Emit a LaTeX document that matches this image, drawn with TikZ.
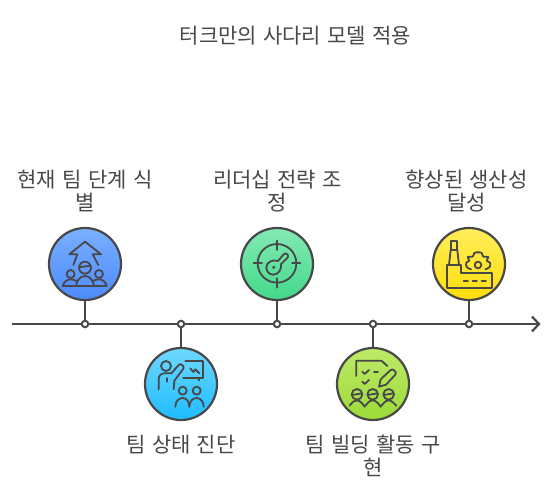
\documentclass[tikz,border=0pt]{standalone}
\usepackage{fontspec}
\setmainfont[WordSpace=1.35]{Noto Sans CJK KR}
\usetikzlibrary{arrows.meta}
\definecolor{ink}{HTML}{484848}
\tikzset{
  x=1pt,y=-1pt,
  conn/.style={draw=ink,line width=2.2pt},
  badge/.style={circle,draw=ink,line width=2.2pt,minimum size=72pt,inner sep=0pt},
  dot/.style={circle,draw=ink,line width=2pt,fill=white,minimum size=6.5pt,inner sep=0pt},
  lab/.style={text=ink,font=\fontsize{21}{23}\selectfont,align=center,inner sep=0pt},
  ico/.style={draw=ink,line width=1.8pt,line join=round,line cap=round,fill=none},
}
\begin{document}
\begin{tikzpicture}
\useasboundingbox (0,0) rectangle (553,492);
\fill[white] (0,0) rectangle (553,492);
\coordinate (start) at (12,324);
\coordinate (end) at (540.5,324);
\draw[conn,-{Straight Barb[length=7pt,width=15pt,line width=2.2pt]}] (start) -- (end);
\node[dot] (d1) at (85,324) {};
\node[dot] (d2) at (181,324) {};
\node[dot] (d3) at (277,324) {};
\node[dot] (d4) at (373,324) {};
\node[dot] (d5) at (469,324) {};
\node[badge,top color={rgb,255:red,122;green,176;blue,255},bottom color={rgb,255:red,76;green,138;blue,250}] (c1) at (85,264) {};
\node[badge,top color={rgb,255:red,132;green,233;blue,180},bottom color={rgb,255:red,66;green,217;blue,138}] (c2) at (277,264) {};
\node[badge,top color={rgb,255:red,255;green,238;blue,92},bottom color={rgb,255:red,255;green,222;blue,10}] (c3) at (469,264) {};
\node[badge,top color={rgb,255:red,110;green,216;blue,255},bottom color={rgb,255:red,30;green,188;blue,255}] (c4) at (181,384) {};
\node[badge,top color={rgb,255:red,190;green,234;blue,104},bottom color={rgb,255:red,156;green,218;blue,56}] (c5) at (373,384) {};
\draw[conn] (c1) -- (d1);
\draw[conn] (c2) -- (d3);
\draw[conn] (c3) -- (d5);
\draw[conn] (c4) -- (d2);
\draw[conn] (c5) -- (d4);
% icon 1
\begin{scope}[shift={(40,220)},scale=1/3]
\draw[ico] (100,135) -- (112,103) -- (88,103) -- (135,65) -- (183,103) -- (158,103) -- (175,135);
\draw[ico] (135,143) circle (18);
\draw[ico] (118,142) -- (151,137);
\draw[ico] (92,162) circle (12);
\draw[ico] (177,162) circle (12);
\draw[ico] (68,197) -- (200,197);
\draw[ico] (68,197) .. controls (72,184) and (84,178) .. (92,178) .. controls (98,178) and (104,180) .. (112,184);
\draw[ico] (200,197) .. controls (196,184) and (186,178) .. (177,178) .. controls (170,178) and (164,180) .. (157,184);
\draw[ico] (108,197) .. controls (110,180) and (122,168) .. (135,168) .. controls (148,168) and (160,180) .. (162,197);
\end{scope}
% icon 2
\begin{scope}[shift={(232,220)},scale=1/3]
\draw[ico] (135,130) circle (58);
\draw[ico] (135,62) -- (135,90) (135,175) -- (135,203) (65,130) -- (90,130) (180,130) -- (205,130);
\draw[ico] (138,123) -- (155,103) .. controls (158,99) and (163,99) .. (166,103) .. controls (170,107) and (169,112) .. (165,115) -- (147,132)
  .. controls (150,146) and (140,164) .. (124,164) .. controls (110,164) and (103,152) .. (103,142) .. controls (103,128) and (120,117) .. (138,123);
\fill[ink] (125,142) circle (5);
\end{scope}
% icon 3
\begin{scope}[shift={(424,220)},scale=1/3]
\draw[ico] (80,90) -- (80,64) -- (100,64) -- (100,90) -- cycle;
\draw[ico] (80,90) -- (75,135) (100,90) -- (105,135);
\draw[ico] (68,135) -- (110,135) -- (110,160) -- (205,160) -- (205,205) -- (68,205) -- cycle;
\draw[ico] (119,182) -- (132,182) (146,182) -- (159,182) (173,182) -- (186,182);
\draw[ico] (162,135) circle (10);
\draw[ico] plot[smooth,tension=0.6] coordinates {(141,148) (128,141) (127,128) (136,122) (131,111) (146,110) (151,99) (162,97) (173,99) (178,110) (193,111) (188,122) (198,128) (197,141) (184,148)};
\end{scope}
% icon 4
\begin{scope}[shift={(136,340)},scale=1/3]
\draw[ico] (90,78) circle (15);
\draw[ico] (68,148) -- (68,118) .. controls (68,106) and (76,100) .. (86,100) -- (106,100) -- (128,75) .. controls (134,68) and (146,78) .. (142,86) -- (115,122) -- (113,148);
\draw[ico] (92,114) -- (92,125);
\draw[ico] (148,64) -- (200,64) -- (200,115) -- (142,115);
\draw[ico] (163,85) -- (172,96) -- (178,88) -- (190,100);
\draw[ico] (190,115) -- (190,121);
\draw[ico] (140,152) circle (12);
\draw[ico] (182,152) circle (12);
\draw[ico] (118,200) .. controls (118,184) and (128,174) .. (140,174) .. controls (152,174) and (160,186) .. (160,200);
\draw[ico] (160,200) .. controls (160,184) and (170,174) .. (182,174) .. controls (194,174) and (203,186) .. (203,200);
\end{scope}
% icon 5
\begin{scope}[shift={(328,340)},scale=1/3]
\draw[ico] (85,108) -- (85,62) -- (160,62) -- (178,78);
\draw[ico] (103,95) -- (110,102) -- (123,90);
\draw[ico] (138,97) -- (150,97);
\draw[ico] (103,125) -- (110,132) -- (123,120);
\draw[ico] (153,140) -- (158,118) -- (188,90) .. controls (194,84) and (208,96) .. (202,104) -- (174,134) -- cycle;
\foreach \hx in {87,134,182}{
  \draw[ico] (\hx,163) circle (16);
  \draw[ico] (\hx-15,165) -- (\hx+15,160);
}
\draw[ico] (65,197) .. controls (72,186) and (80,181) .. (87,181) .. controls (96,181) and (104,192) .. (110,200) .. controls (116,192) and (124,181) .. (134,181) .. controls (144,181) and (152,192) .. (158,200) .. controls (164,192) and (172,181) .. (182,181) .. controls (190,181) and (198,190) .. (205,197);
\end{scope}
% labels
\node[lab] (title) at (295.5,35.5) {터크만의 사다리 모델 적용};
\node[lab] (t1) at (85,191) {현재 팀 단계 식\\별};
\node[lab] (t2) at (277.5,191) {리더십 전략 조\\정};
\node[lab] (t3) at (466.5,191) {향상된 생산성\\달성};
\node[lab] (t4) at (181,444.5) {팀 상태 진단};
\node[lab] (t5) at (373,456) {팀 빌딩 활동 구\\현};
\end{tikzpicture}
\end{document}
